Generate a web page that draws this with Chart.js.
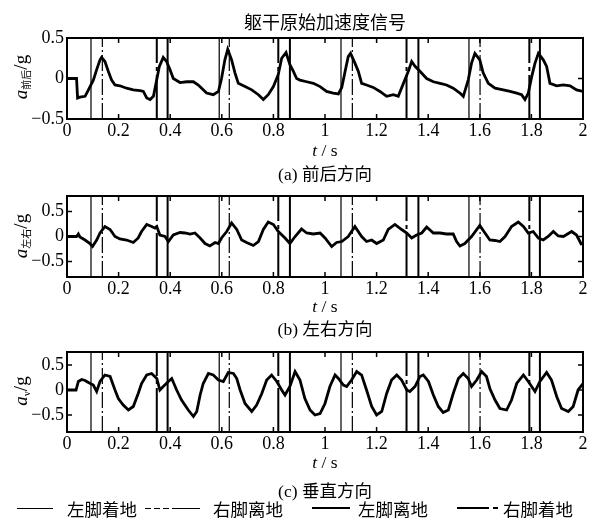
<!DOCTYPE html>
<html>
<head>
<meta charset="utf-8">
<script src="https://cdn.jsdelivr.net/npm/chart.js@4.4.1/dist/chart.umd.min.js"></script>
<style>
  body { margin: 0; background: #fff; }
  #page { position: relative; width: 591px; height: 522px; overflow: hidden;
          font-family: "Liberation Serif", "Noto Sans CJK SC", serif; color: #000; }
  canvas { position: absolute; left: 0; top: 0; }
  .txt { position: absolute; white-space: nowrap; transform: translate(-50%, -50%); font-size: 17.5px; }
  .ylab { position: absolute; white-space: nowrap; transform: translate(-50%, -50%) rotate(-90deg); font-size: 19px; }
  .ylab sub { font-size: 10px; vertical-align: -3px; }
  .leg { position: absolute; top: 497px; height: 22px; display: flex; align-items: center; font-size: 17.5px; white-space: nowrap; }
</style>
</head>
<body>
<div id="page">
  <canvas id="c1" width="591" height="522"></canvas>
  <canvas id="c2" width="591" height="522"></canvas>
  <canvas id="c3" width="591" height="522"></canvas>

  <div class="txt" style="left:325px;top:21px;font-size:18px">躯干原始加速度信号</div>

  <div class="ylab" style="left:21px;top:77px"><i>a</i><sub>前后</sub>/g</div>
  <div class="ylab" style="left:21px;top:236px"><i>a</i><sub>左右</sub>/g</div>
  <div class="ylab" style="left:21px;top:391px"><i>a</i><sub>v</sub>/g</div>

  <div class="txt" style="left:325px;top:150px"><i>t</i> / s</div>
  <div class="txt" style="left:325px;top:172px">(a) 前后方向</div>
  <div class="txt" style="left:325px;top:306px"><i>t</i> / s</div>
  <div class="txt" style="left:325px;top:327px">(b) 左右方向</div>
  <div class="txt" style="left:325px;top:462px"><i>t</i> / s</div>
  <div class="txt" style="left:325px;top:489px">(c) 垂直方向</div>

  <div class="leg" style="left:17px"><svg width="36" height="4" style="margin-right:14px"><line x1="0" y1="2.5" x2="36" y2="2.5" stroke="#000" stroke-width="1"/></svg>左脚着地</div>
  <div class="leg" style="left:145px"><svg width="55" height="4" style="margin-right:13px"><line x1="0" y1="2.5" x2="55" y2="2.5" stroke="#000" stroke-width="1" stroke-dasharray="6 3 6 3 6 3 28"/></svg>右脚离地</div>
  <div class="leg" style="left:312px"><svg width="38" height="4" style="margin-right:8px"><line x1="0" y1="2" x2="38" y2="2" stroke="#000" stroke-width="2"/></svg>左脚离地</div>
  <div class="leg" style="left:457px"><svg width="41" height="4" style="margin-right:5px"><line x1="0" y1="2" x2="41" y2="2" stroke="#000" stroke-width="2" stroke-dasharray="32 4 5 4"/></svg>右脚着地</div>
</div>

<script>
// tick values
const xTicks = [0, 0.2, 0.4, 0.6, 0.8, 1, 1.2, 1.4, 1.6, 1.8, 2];
const yTicks = [-0.5, 0, 0.5];

// gait events (s)
const leftStrike  = [0.093, 0.590, 1.062, 1.558];   // 左脚着地
const rightOff    = [0.137, 0.629, 1.106, 1.601];   // 右脚离地
const leftOff     = [0.390, 0.864, 1.362, 1.833];   // 左脚离地
const rightStrike = [0.348, 0.819, 1.316, 1.792];   // 右脚着地

// (a) 前后方向
const tAP = [0, 0.037, 0.041, 0.050, 0.070, 0.083, 0.102, 0.115, 0.128, 0.134, 0.147, 0.160, 0.173, 0.186, 0.205, 0.231, 0.257, 0.283, 0.296, 0.309, 0.322, 0.335, 0.345, 0.358, 0.373, 0.386, 0.399, 0.412, 0.438, 0.464, 0.490, 0.509, 0.528, 0.541, 0.567, 0.587, 0.599, 0.612, 0.623, 0.638, 0.651, 0.664, 0.690, 0.716, 0.742, 0.761, 0.780, 0.800, 0.819, 0.832, 0.849, 0.864, 0.877, 0.890, 0.903, 0.929, 0.955, 0.981, 1.006, 1.032, 1.052, 1.065, 1.078, 1.090, 1.099, 1.116, 1.129, 1.142, 1.161, 1.187, 1.213, 1.239, 1.265, 1.284, 1.304, 1.323, 1.336, 1.349, 1.368, 1.394, 1.420, 1.446, 1.471, 1.497, 1.523, 1.536, 1.555, 1.568, 1.581, 1.600, 1.613, 1.633, 1.659, 1.691, 1.717, 1.743, 1.762, 1.775, 1.788, 1.801, 1.814, 1.827, 1.846, 1.859, 1.872, 1.898, 1.924, 1.950, 1.975, 2.0];
const aAP = [0, 0, -0.24, -0.23, -0.22, -0.14, -0.02, 0.11, 0.23, 0.26, 0.21, 0.09, -0.02, -0.08, -0.09, -0.12, -0.14, -0.15, -0.16, -0.24, -0.26, -0.22, -0.06, 0.15, 0.26, 0.21, 0.11, 0, -0.05, -0.04, -0.04, -0.08, -0.14, -0.18, -0.2, -0.16, 0, 0.23, 0.36, 0.23, 0.07, -0.06, -0.1, -0.14, -0.2, -0.26, -0.2, -0.1, 0.05, 0.25, 0.32, 0.17, 0.09, 0, -0.02, -0.04, -0.06, -0.1, -0.16, -0.18, -0.19, -0.11, 0.09, 0.27, 0.31, 0.19, 0.09, -0.06, -0.08, -0.11, -0.16, -0.22, -0.2, -0.22, -0.06, 0.09, 0.21, 0.15, 0.09, 0, -0.04, -0.06, -0.08, -0.12, -0.18, -0.22, -0.02, 0.19, 0.31, 0.23, 0.07, -0.06, -0.12, -0.14, -0.16, -0.18, -0.2, -0.26, -0.18, 0.02, 0.19, 0.31, 0.23, 0.15, -0.06, -0.09, -0.08, -0.09, -0.14, -0.16];

// (b) 左右方向
const tML = [0, 0.037, 0.044, 0.050, 0.070, 0.089, 0.099, 0.115, 0.128, 0.147, 0.167, 0.186, 0.205, 0.231, 0.257, 0.276, 0.289, 0.309, 0.328, 0.341, 0.348, 0.360, 0.380, 0.393, 0.412, 0.438, 0.457, 0.477, 0.496, 0.516, 0.535, 0.554, 0.574, 0.587, 0.599, 0.619, 0.638, 0.658, 0.677, 0.696, 0.722, 0.742, 0.761, 0.780, 0.800, 0.819, 0.845, 0.864, 0.884, 0.909, 0.929, 0.955, 0.981, 1.000, 1.026, 1.045, 1.065, 1.090, 1.116, 1.142, 1.161, 1.181, 1.200, 1.226, 1.245, 1.271, 1.297, 1.317, 1.336, 1.355, 1.375, 1.394, 1.420, 1.446, 1.471, 1.497, 1.510, 1.523, 1.542, 1.568, 1.600, 1.620, 1.639, 1.659, 1.678, 1.698, 1.723, 1.749, 1.769, 1.788, 1.807, 1.827, 1.846, 1.865, 1.885, 1.904, 1.924, 1.956, 1.975, 1.995];
const aML = [0, 0, 0.05, -0.01, -0.07, -0.14, -0.2, -0.07, 0.07, 0.2, 0.14, 0, -0.05, -0.07, -0.12, -0.03, 0.1, 0.24, 0.2, 0.17, 0.2, 0.03, 0, -0.1, 0.03, 0.08, 0.07, 0.05, 0.07, -0.03, -0.14, -0.19, -0.12, -0.14, -0.03, 0.1, 0.27, 0.14, -0.07, -0.12, -0.18, -0.1, 0.14, 0.29, 0.24, 0.1, -0.03, -0.14, 0, 0.15, 0.07, 0.05, 0.07, -0.03, -0.2, -0.12, -0.1, 0, 0.2, 0, -0.1, -0.07, -0.14, -0.07, 0.14, 0.24, 0.14, 0.07, -0.03, 0.03, 0.07, 0.19, 0.07, 0.07, 0.05, 0.05, -0.1, -0.19, -0.14, 0, 0.22, 0.07, -0.07, -0.08, -0.1, 0, 0.2, 0.29, 0.2, 0.07, 0.1, -0.03, -0.07, 0, 0.1, 0.01, 0, 0.1, 0.03, -0.17];

// (c) 垂直方向
const tV = [0, 0.035, 0.044, 0.057, 0.070, 0.083, 0.102, 0.115, 0.128, 0.147, 0.167, 0.186, 0.199, 0.218, 0.238, 0.257, 0.276, 0.289, 0.309, 0.328, 0.348, 0.360, 0.373, 0.393, 0.406, 0.425, 0.444, 0.470, 0.490, 0.503, 0.516, 0.528, 0.548, 0.567, 0.587, 0.606, 0.625, 0.645, 0.658, 0.671, 0.690, 0.716, 0.735, 0.755, 0.774, 0.793, 0.813, 0.832, 0.845, 0.864, 0.884, 0.903, 0.922, 0.942, 0.961, 0.981, 1.000, 1.019, 1.039, 1.052, 1.071, 1.084, 1.103, 1.123, 1.142, 1.161, 1.181, 1.200, 1.220, 1.239, 1.258, 1.278, 1.297, 1.317, 1.329, 1.349, 1.368, 1.381, 1.401, 1.420, 1.439, 1.458, 1.478, 1.497, 1.517, 1.536, 1.555, 1.568, 1.588, 1.607, 1.626, 1.639, 1.659, 1.678, 1.704, 1.723, 1.743, 1.769, 1.788, 1.814, 1.833, 1.859, 1.878, 1.898, 1.917, 1.943, 1.962, 1.981, 2.0];
const aV = [0, 0, 0.17, 0.21, 0.19, 0.15, 0.1, -0.03, 0.17, 0.3, 0.27, 0, -0.17, -0.3, -0.4, -0.33, -0.07, 0.13, 0.3, 0.33, 0.23, 0, 0.07, 0.17, 0.23, 0, -0.2, -0.4, -0.53, -0.43, -0.1, 0.13, 0.33, 0.3, 0.2, 0.17, 0.35, 0.33, 0.23, 0, -0.27, -0.43, -0.3, -0.07, 0.2, 0.3, 0.17, 0, -0.1, 0.07, 0.37, 0.2, -0.17, -0.4, -0.5, -0.47, -0.27, 0.07, 0.3, 0.23, 0.1, 0.07, 0.2, 0.37, 0.3, 0, -0.33, -0.5, -0.43, -0.07, 0.2, 0.3, 0.2, 0, -0.03, 0.07, 0.27, 0.3, 0.17, -0.1, -0.33, -0.45, -0.4, -0.07, 0.23, 0.33, 0.23, 0.07, 0.2, 0.37, 0.27, 0.03, -0.2, -0.37, -0.4, -0.2, 0.13, 0.3, 0.17, -0.03, 0.17, 0.35, 0.2, -0.13, -0.37, -0.43, -0.33, 0, 0.13];

Chart.defaults.font.family = '"Liberation Serif", serif';
Chart.defaults.color = '#000';

const framePlugin = {
  id: 'frame',
  afterDatasetsDraw(chart) {
    const { ctx, chartArea: a, scales: { x, y } } = chart;
    ctx.save();
    ctx.strokeStyle = '#000';
    ctx.lineWidth = 2;
    ctx.strokeRect(a.left, a.top, a.right - a.left, a.bottom - a.top);
    ctx.beginPath();
    xTicks.forEach(v => {
      const px = x.getPixelForValue(v);
      ctx.moveTo(px, a.bottom); ctx.lineTo(px, a.bottom - 5);
      ctx.moveTo(px, a.top); ctx.lineTo(px, a.top + 5);
    });
    yTicks.forEach(v => {
      const py = y.getPixelForValue(v);
      ctx.moveTo(a.left, py); ctx.lineTo(a.left + 5, py);
      ctx.moveTo(a.right, py); ctx.lineTo(a.right - 5, py);
    });
    ctx.lineWidth = 1.5;
    ctx.stroke();
    ctx.restore();
  }
};

function eventLines(times, yMin, yMax, width, dash) {
  const pts = [];
  times.forEach(v => { pts.push({ x: v, y: yMin }, { x: v, y: yMax }, { x: v, y: null }); });
  return { data: pts, borderColor: '#000', borderWidth: width, borderDash: dash,
           pointRadius: 0, spanGaps: false, fill: false };
}

function makeChart(id, t, acc, yMin, yMax, top, bottom) {
  const signal = t.map((v, i) => ({ x: v, y: acc[i] }));
  new Chart(document.getElementById(id), {
    type: 'line',
    data: {
      datasets: [
        { data: signal, borderColor: '#000', borderWidth: 2.8, pointRadius: 0, tension: 0, fill: false },
        eventLines(leftStrike, yMin, yMax, 1.2, []),
        eventLines(rightOff, yMin, yMax, 1.2, [16, 3, 2, 3]),
        eventLines(leftOff, yMin, yMax, 2, []),
        eventLines(rightStrike, yMin, yMax, 2, [44, 4, 4, 4])
      ]
    },
    options: {
      responsive: false,
      animation: false,
      events: [],
      layout: { padding: { top: top, right: 8, left: 0, bottom: 0 } },
      plugins: { legend: { display: false }, tooltip: { enabled: false } },
      scales: {
        x: {
          type: 'linear', min: 0, max: 2,
          afterBuildTicks: s => { s.ticks = xTicks.map(v => ({ value: v })); },
          afterFit: s => { s.height = 522 - bottom; },
          grid: { display: false, drawTicks: false }, border: { display: false },
          ticks: { padding: 1, maxRotation: 0, autoSkip: false, font: { size: 18 },
                   callback: v => String(+v.toFixed(1)) }
        },
        y: {
          min: yMin, max: yMax,
          afterBuildTicks: s => { s.ticks = yTicks.map(v => ({ value: v })); },
          afterFit: s => { s.width = 67; },
          grid: { display: false, drawTicks: false }, border: { display: false },
          ticks: { padding: 3, font: { size: 18 },
                   callback: v => v === 0 ? '0' : (v < 0 ? '\u2212' : '') + Math.abs(v) }
        }
      }
    },
    plugins: [framePlugin]
  });
}

makeChart('c1', tAP, aAP, -0.5, 0.5, 38, 119);
makeChart('c2', tML, aML, -0.81, 0.81, 196, 277);
makeChart('c3', tV, aV, -0.84, 0.76, 352, 432);
</script>
</body>
</html>
